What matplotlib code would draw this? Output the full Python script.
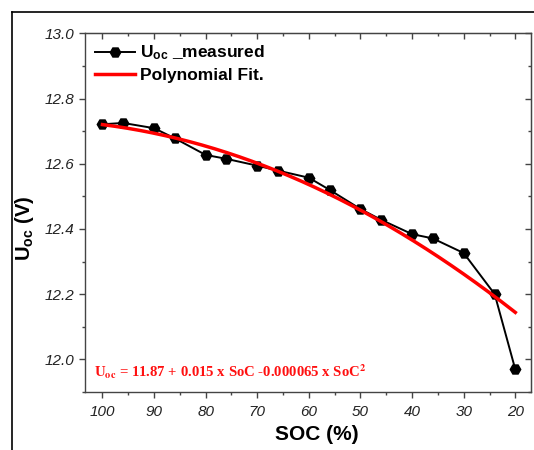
import numpy as np
import matplotlib
matplotlib.use("Agg")
from matplotlib import pyplot as plt
from matplotlib.lines import Line2D
from matplotlib.ticker import MultipleLocator

# measured open-circuit voltage vs state of charge
soc = [100, 96, 90, 86, 80, 76, 70, 66, 60, 56, 50, 46, 40, 36, 30, 24, 20]
u_oc = [12.721, 12.725, 12.709, 12.678, 12.627, 12.615, 12.594, 12.579, 12.557,
        12.520, 12.461, 12.428, 12.384, 12.371, 12.326, 12.200, 11.969]

# polynomial fit coefficients printed on the chart (c0, c1, c2)
fit_coef = [11.87, 0.015, -0.000065]
fit_range = [100, 20]

plt.rcParams['font.family'] = ['Liberation Sans', 'DejaVu Sans']
plt.rcParams['mathtext.fontset'] = 'custom'
plt.rcParams['mathtext.rm'] = 'Liberation Sans'
plt.rcParams['mathtext.bf'] = 'Liberation Sans:bold'
plt.rcParams['mathtext.it'] = 'Liberation Sans:italic'

fig = plt.figure(figsize=(5.34, 4.5), dpi=100)
ax = fig.add_axes([0.159, 0.129, 0.835, 0.797])

ax.plot(soc, u_oc, color='black', lw=1.4, marker='H', ms=7.5, zorder=3,
        label=r'$\mathbf{U_{oc}}$ _measured')
xf = np.linspace(fit_range[0], fit_range[1], 200)
yf = np.polyval(fit_coef[::-1], xf)
ax.plot(xf, yf, color='#ff0000', lw=2.5, zorder=4, label='Polynomial Fit.')

ax.set_xlim(103.4, 17)
ax.set_ylim(11.9, 13.0)
ax.xaxis.set_major_locator(MultipleLocator(10))
ax.xaxis.set_minor_locator(MultipleLocator(5))
ax.yaxis.set_major_locator(MultipleLocator(0.2))
ax.yaxis.set_minor_locator(MultipleLocator(0.1))
ax.yaxis.set_major_formatter(plt.FormatStrFormatter('%.1f'))

for s in ax.spines.values():
    s.set_color('#444444')
    s.set_linewidth(1.0)

ax.tick_params(which='both', direction='out', color='#444444', width=1.0,
               top=False, right=False, labelsize=11, labelcolor='#222222')
ax.tick_params(which='major', length=4.5)
ax.tick_params(which='minor', length=2.5)
ax.tick_params(axis='x', which='major', pad=5)
ax.tick_params(axis='y', which='major', pad=3)
for lab in ax.get_xticklabels() + ax.get_yticklabels():
    lab.set_fontstyle('italic')

# inward ticks on top and right
sec_x = ax.secondary_xaxis('top')
sec_x.xaxis.set_major_locator(MultipleLocator(10))
sec_x.xaxis.set_minor_locator(MultipleLocator(5))
sec_x.tick_params(which='both', direction='in', color='#444444', width=1.0, labeltop=False)
sec_x.tick_params(which='major', length=4.5)
sec_x.tick_params(which='minor', length=2.5)
sec_y = ax.secondary_yaxis('right')
sec_y.yaxis.set_major_locator(MultipleLocator(0.2))
sec_y.yaxis.set_minor_locator(MultipleLocator(0.1))
sec_y.tick_params(which='both', direction='in', color='#444444', width=1.0, labelright=False)
sec_y.tick_params(which='major', length=4.5)
sec_y.tick_params(which='minor', length=2.5)
for s in list(sec_x.spines.values()) + list(sec_y.spines.values()):
    s.set_color('#444444')

ax.set_xlabel('SOC (%)', fontsize=15, fontweight='bold')
ax.xaxis.set_label_coords(0.52, -0.092)
ax.set_ylabel(r'$\mathbf{U_{oc}}$ (V)', fontsize=14.5, fontweight='bold')
ax.yaxis.set_label_coords(-0.11, 0.455)

leg = ax.legend(loc='upper left', frameon=False,
                prop={'weight': 'bold', 'size': 12.5},
                handlelength=2.3, handletextpad=0.3, labelspacing=0.3,
                borderaxespad=0.2, bbox_to_anchor=(0.0, 1.0))

ax.text(0.02, 0.056, r'U$_{\mathbf{oc}}$ = 11.87 + 0.015 x SoC -0.000065 x SoC$^{\mathbf{2}}$',
        transform=ax.transAxes, color='#ff1010', fontsize=10.6, fontweight='bold',
        family='Liberation Serif', math_fontfamily='stix', va='center', ha='left')

# outer frame lines (left and top)
fig.add_artist(Line2D([11.5 / 534, 11.5 / 534], [0, 1 - 11.5 / 450], color='black', lw=1.2,
                      transform=fig.transFigure))
fig.add_artist(Line2D([11.5 / 534, 1], [1 - 11.5 / 450, 1 - 11.5 / 450], color='black', lw=1.2,
                      transform=fig.transFigure))

fig.savefig('out.png', dpi=100)
